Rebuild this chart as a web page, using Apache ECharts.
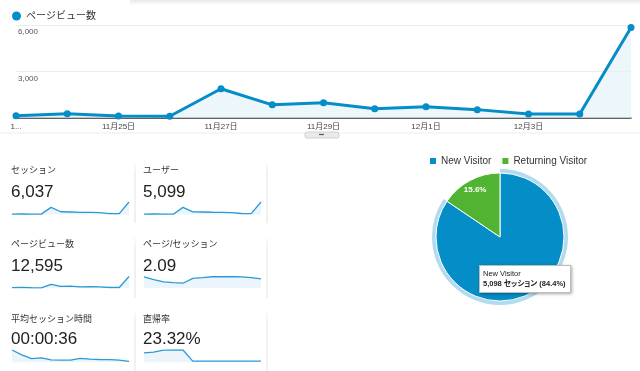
<!DOCTYPE html>
<html><head><meta charset="utf-8">
<script src="https://cdn.jsdelivr.net/npm/echarts@6/dist/echarts.min.js"></script>
<style>html,body{margin:0;padding:0;background:#fff;overflow:hidden}#c{width:640px;height:371px}</style>
</head><body><div id="c"></div>
<script>
// ---- data ----
const dates = ['11月23日','11月24日','11月25日','11月26日','11月27日','11月28日','11月29日','11月30日','12月1日','12月2日','12月3日','12月4日','12月5日'];
const pageviews = [150, 280, 130, 110, 1890, 850, 980, 590, 720, 540, 260, 260, 5835];
const yTicks = [0, 3000, 6000];
const sessions = [70, 85, 65, 60, 1250, 480, 440, 390, 360, 330, 170, 140, 2197];
const users = [60, 72, 55, 50, 1060, 400, 370, 330, 305, 280, 145, 120, 1852];
const pagesPerSession = [2.38, 1.80, 1.30, 1.15, 1.03, 2.08, 2.25, 2.43, 2.43, 2.48, 2.40, 2.23, 1.95];
const avgDuration = [110, 66, 33, 40, 21, 19, 19, 36, 28, 25, 24, 20, 9];
const bounceRate = [26, 28, 33.5, 34, 34, 3.4, 3.3, 3.4, 3.3, 3.2, 3.3, 3.2, 3.4];
const cardTitles = ['セッション','ユーザー','ページビュー数','ページ/セッション','平均セッション時間','直帰率'];
const cardValues = ['6,037','5,099','12,595','2.09','00:00:36','23.32%'];
const visitorTypes = ['New Visitor','Returning Visitor'];
const visitorSessions = [5098, 939];
const metricName = 'ページビュー数';
const sessionUnit = 'セッション';

// ---- style ----
const FONT = '"Liberation Sans", Arial, "Noto Sans CJK JP", sans-serif';
const BLUE = '#058DC7', GREEN = '#50B432';
const sparkData = [sessions, users, pageviews, pagesPerSession, avgDuration, bounceRate];
const colX = [12, 144];
const titleY = [171, 245, 320];
const valueY = [192, 266, 339.5];
const sparkTop = [202, 276.5, 350];
const sparkH = [12.5, 11.5, 12.3];

const grids = [{left:16, right:9, top:25, bottom:253}];
const xAxes = [{
  type:'category', data:dates, boundaryGap:false, gridIndex:0,
  axisLine:{lineStyle:{color:'#333', width:1.5}}, axisTick:{show:false},
  axisLabel:{interval:(i)=> i % 2 === 0 && i < dates.length - 1, fontSize:8, color:'#444', margin:5, fontFamily:FONT,
    formatter:(v,i)=> i===0 ? v.slice(0,1)+'...' : v}
}];
const yAxes = [{
  type:'value', min:yTicks[0], max:yTicks[yTicks.length-1], interval:yTicks[1]-yTicks[0], gridIndex:0,
  axisLine:{show:false}, axisTick:{show:false},
  splitLine:{lineStyle:{color:'#ececec'}},
  axisLabel:{inside:true, verticalAlign:'top', margin:2, padding:[3,0,0,0], fontSize:8, color:'#555',
    fontFamily:FONT, showMinLabel:false, formatter:v=>v.toLocaleString('en-US')}
}];
const series = [{
  type:'line', name:metricName, data:pageviews, xAxisIndex:0, yAxisIndex:0,
  symbol:'circle', symbolSize:7, showSymbol:true,
  lineStyle:{color:BLUE, width:3}, itemStyle:{color:BLUE},
  areaStyle:{color:'#e6f2f9'}, tooltip:{show:false}, silent:true
}];
const graphics = [];
sparkData.forEach((d, k) => {
  const col = k % 2, row = Math.floor(k / 2);
  const gi = k + 1;
  grids.push({left:colX[col], top:sparkTop[row], width:117, height:sparkH[row]});
  xAxes.push({type:'category', gridIndex:gi, data:dates, boundaryGap:false, show:false});
  yAxes.push({type:'value', gridIndex:gi, min:0, max:'dataMax', show:false});
  series.push({type:'line', xAxisIndex:gi, yAxisIndex:gi, data:d, showSymbol:false, silent:true,
    lineStyle:{color:'#2b9ad3', width:1.3}, areaStyle:{color:'#e4f1f9'}, tooltip:{show:false}});
  graphics.push({type:'text', silent:true, style:{text:cardTitles[k], x:colX[col]-1, y:titleY[row],
    verticalAlign:'middle', fill:'#333', font:'9px '+FONT}});
  graphics.push({type:'text', silent:true, style:{text:cardValues[k], x:colX[col]-1, y:valueY[row],
    verticalAlign:'middle', fill:'#222', font:'17px '+FONT}});
});
// card separators
[[162,223],[237,298],[311,371]].forEach(r => {
  [135, 267].forEach(x => {
    graphics.push({type:'line', silent:true, shape:{x1:x, y1:r[0], x2:x, y2:r[1]},
      style:{stroke:new echarts.graphic.LinearGradient(0,0,0,1,[{offset:0,color:'rgba(220,220,220,0)'},{offset:0.25,color:'#e2e2e2'},{offset:1,color:'#e2e2e2'}]), lineWidth:1}});
  });
});
// top shadow, bottom rule of main chart, expand handle
graphics.push({type:'rect', silent:true, shape:{x:130, y:0, width:510, height:5},
  style:{fill:new echarts.graphic.LinearGradient(0,0,0,1,[{offset:0,color:'rgba(0,0,0,0.09)'},{offset:1,color:'rgba(0,0,0,0)'}])}});
graphics.push({type:'line', silent:true, shape:{x1:0, y1:133, x2:640, y2:133}, style:{stroke:'#ededed', lineWidth:1}});
graphics.push({type:'rect', silent:true, shape:{x:305, y:132, width:34, height:6, r:2},
  style:{fill:'#eaeaea', stroke:'#d0d0d0', lineWidth:1}});
graphics.push({type:'line', silent:true, shape:{x1:319, y1:134.5, x2:324, y2:134.5}, style:{stroke:'#555', lineWidth:1.2}});

const total = visitorSessions.reduce((a,b)=>a+b, 0);
const pct = i => (visitorSessions[i] / total * 100).toFixed(1);
const pieColors = [BLUE, GREEN];
const pieData = visitorTypes.map((n,i)=>({name:n, value:visitorSessions[i], itemStyle:{color:pieColors[i]}}));
const pieIndex = series.length;
series.push({
  type:'pie', name:'visitors', center:[500,237], radius:[0,64], z:3,
  data:pieData, label:{show:false}, labelLine:{show:false},
  itemStyle:{borderColor:'#fff', borderWidth:1}, emphasis:{disabled:true}
});
series.push({
  type:'pie', name:'halo', center:[500,237], radius:[64,68], z:2, silent:true, tooltip:{show:false},
  data:visitorTypes.map((n,i)=>({name:n, value:visitorSessions[i], itemStyle:{color: i===0 ? '#b3dbee' : 'rgba(0,0,0,0)'}})),
  label:{show:false}, labelLine:{show:false}, emphasis:{disabled:true}
});
series.push({
  type:'pie', name:'labels', center:[500,237], radius:[36,64], z:4, silent:true, tooltip:{show:false},
  data:visitorTypes.map((n,i)=>({name:n, value:visitorSessions[i], itemStyle:{color:'rgba(0,0,0,0)'}})),
  label:{show:true, position:'inside', color:'#fff', fontSize:8, fontWeight:'bold', fontFamily:FONT,
    formatter:p=>pct(p.dataIndex)+'%'},
  labelLine:{show:false}, emphasis:{disabled:true}
});

const chart = echarts.init(document.getElementById('c'), null, {renderer:'canvas'});
chart.setOption({
  animation:false,
  backgroundColor:'#fff',
  textStyle:{fontFamily:FONT},
  grid:grids, xAxis:xAxes, yAxis:yAxes, series:series, graphic:graphics,
  legend:[
    {data:[{name:metricName, icon:'circle', itemStyle:{color:BLUE}}], left:7, top:6, itemWidth:9, itemHeight:9,
      itemGap:5, selectedMode:false, textStyle:{fontSize:10, color:'#333', fontFamily:FONT}},
    {data:visitorTypes.map((n,i)=>({name:n, icon:'rect', itemStyle:{color:pieColors[i]}})), left:423, top:151,
      itemWidth:8, itemHeight:8, itemGap:9, selectedMode:false, textStyle:{fontSize:10, color:'#333', fontFamily:FONT, padding:[0,0,0,-1]}}
  ],
  tooltip:{
    trigger:'item', triggerOn:'none', alwaysShowContent:true, position:[479,265], transitionDuration:0,
    backgroundColor:'#fff', borderColor:'#bdbdbd', borderWidth:1, padding:[3,4,3,3],
    textStyle:{fontSize:7.5, color:'#222', fontFamily:FONT},
    extraCssText:'box-shadow:1px 1px 3px rgba(0,0,0,0.35);border-radius:0;line-height:10px;font-feature-settings:"palt";',
    formatter:p=>{
      const i = p.dataIndex;
      return visitorTypes[i] + '<br/><b>' + visitorSessions[i].toLocaleString('en-US') + ' ' + sessionUnit + ' (' + pct(i) + '%)</b>';
    }
  }
});
chart.dispatchAction({type:'showTip', seriesIndex:pieIndex, dataIndex:0});
</script>
</body></html>
